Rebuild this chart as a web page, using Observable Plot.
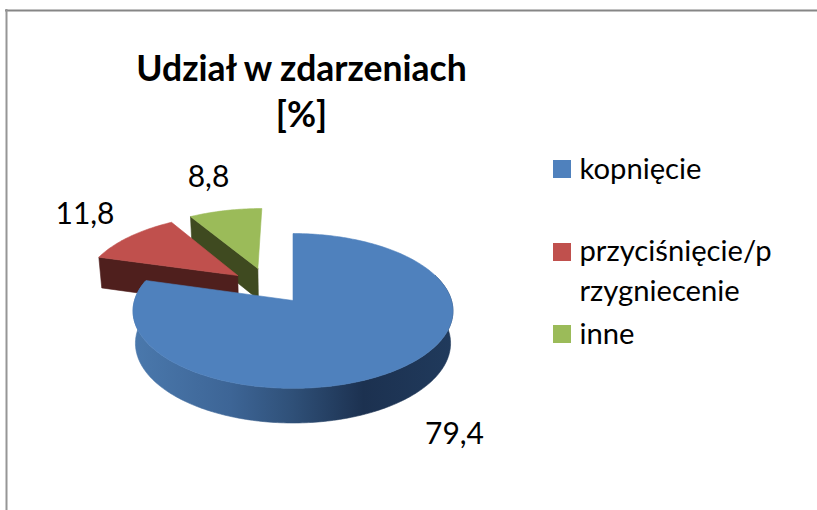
<!DOCTYPE html>
<html>
<head>
<meta charset="utf-8">
<style>html,body{margin:0;padding:0;background:#fff}svg{display:block}</style>
<script src="https://cdn.jsdelivr.net/npm/d3@7"></script>
<script src="https://cdn.jsdelivr.net/npm/@observablehq/plot@0.6"></script>
</head>
<body>
<script>
// Data
const categories = ["kopnięcie", "przyciśnięcie/p\nrzygniecenie", "inne"];
const values = [79.4, 11.8, 8.8];
const valueLabels = ["79,4", "11,8", "8,8"];
const titleLines = ["Udział w zdarzeniach", "[%]"];

// Styles
const topColors = ["#4f81bd", "#c0504d", "#9bbb59"];
const faceColors = [null, "#4f1f1d", "#3f4a20"];
const wallStops = [[134, "#4a78ac"], [230, "#3d6596"], [292, "#2f5078"], [363, "#1c3150"], [452, "#203a5c"]];

// Layout
const explode = [[0, 0], [-0.365, 0.344], [-0.235, 0.446]];
const pie = {ax: 292.5, ay: 300, R: 158.5, S: 76, k: 0.135, sx: 0.985, sy: 1.03, d: 32};
const labelAt = [[454, 443], [84.5, 223], [208, 186]];
const titleAt = [[301, 80], [301, 126]];
const legendX = 579;
const legendBoxes = [[553, 160], [553, 243], [553, 325]];
const legendBaselines = [[178], [260, 300], [343]];

const rad = d => d * Math.PI / 180;
function project(u, v, low) {
  const den = 1 + pie.k * v;
  return {
    x: pie.ax + pie.R * u / den * (low ? pie.sx : 1),
    y: pie.ay - pie.S * v / den * (low ? pie.sy : 1) + (low ? pie.d : 0)
  };
}
function rim(i, deg, low) {
  const [u0, v0] = explode[i];
  return project(u0 + Math.sin(rad(deg)), v0 + Math.cos(rad(deg)), low);
}
function apex(i, low) {
  const [u0, v0] = explode[i];
  return project(u0, v0, low);
}

const total = d3.sum(values);
let acc = 0;
const slices = values.map(v => {
  const start = acc;
  acc += v / total * 360;
  return {start, end: acc};
});

const rows = [];
function addPolygon(id, color, pts) {
  [...pts, pts[0]].forEach(p => rows.push({x: p.x, y: p.y, id, color}));
}
function topFace(i) {
  const {start, end} = slices[i];
  const pts = [apex(i, false)];
  for (let a = start; a < end; a += 1) pts.push(rim(i, a, false));
  pts.push(rim(i, end, false));
  addPolygon("top" + i, topColors[i], pts);
}
function cutFace(i) {
  const a = slices[i].start;
  addPolygon("cut" + i, faceColors[i], [apex(i, false), rim(i, a, false), rim(i, a, true), apex(i, true)]);
}
function wall(i, from, to) {
  const upper = [], lower = [];
  for (let a = from; a <= to; a += 1) {
    upper.push(rim(i, a, false));
    lower.push(rim(i, a, true));
  }
  addPolygon("wall" + i, "url(#wallGradient)", [...upper, ...lower.reverse()]);
}

// back to front: green, red, blue
cutFace(2);
topFace(2);
cutFace(1);
topFace(1);
wall(0, 70, slices[0].end);
topFace(0);

const legendRows = categories.flatMap((c, i) =>
  c.split("\n").map((line, j) => ({line, x: legendX, y: legendBaselines[i][j]})));

const x0 = wallStops[0][0], x1 = wallStops[wallStops.length - 1][0];
function wallGradientDefs() {
  const ns = "http://www.w3.org/2000/svg";
  const defs = document.createElementNS(ns, "defs");
  const g = document.createElementNS(ns, "linearGradient");
  g.setAttribute("id", "wallGradient");
  g.setAttribute("gradientUnits", "userSpaceOnUse");
  g.setAttribute("x1", x0); g.setAttribute("x2", x1);
  g.setAttribute("y1", 0); g.setAttribute("y2", 0);
  wallStops.forEach(([x, color]) => {
    const s = document.createElementNS(ns, "stop");
    s.setAttribute("offset", (x - x0) / (x1 - x0));
    s.setAttribute("stop-color", color);
    g.appendChild(s);
  });
  defs.appendChild(g);
  return defs;
}

const chart = Plot.plot({
  width: 817,
  height: 510,
  margin: 0,
  style: {fontFamily: "Lato, Carlito, sans-serif", background: "#fff", color: "#000"},
  x: {axis: null, domain: [0, 817], range: [0, 817]},
  y: {axis: null, domain: [0, 510], range: [0, 510]},
  marks: [
    wallGradientDefs,
    Plot.ruleY([10], {x1: 5, x2: 817, stroke: "#868686", strokeWidth: 2}),
    Plot.ruleX([6], {y1: 9, y2: 510, stroke: "#969696", strokeWidth: 2}),
    Plot.line(rows, {x: "x", y: "y", z: "id", fill: "color", stroke: "color", strokeWidth: 0.6, curve: "linear"}),
    Plot.text(titleLines, {
      x: (d, i) => titleAt[i][0], y: (d, i) => titleAt[i][1], text: d => d,
      fontSize: 35.5, fontWeight: 700, textAnchor: "middle", lineAnchor: "bottom", fill: "#000"
    }),
    Plot.text(valueLabels, {
      x: (d, i) => labelAt[i][0], y: (d, i) => labelAt[i][1], text: d => d,
      fontSize: 30, textAnchor: "middle", lineAnchor: "bottom", fill: "#000"
    }),
    Plot.rect(categories, {
      x1: (d, i) => legendBoxes[i][0], x2: (d, i) => legendBoxes[i][0] + 18,
      y1: (d, i) => legendBoxes[i][1], y2: (d, i) => legendBoxes[i][1] + 18,
      fill: (d, i) => topColors[i], inset: 0
    }),
    Plot.text(legendRows, {
      x: "x", y: "y", text: "line",
      fontSize: 29.2, textAnchor: "start", lineAnchor: "bottom", fill: "#000"
    })
  ]
});
document.body.appendChild(chart);
</script>
</body>
</html>
